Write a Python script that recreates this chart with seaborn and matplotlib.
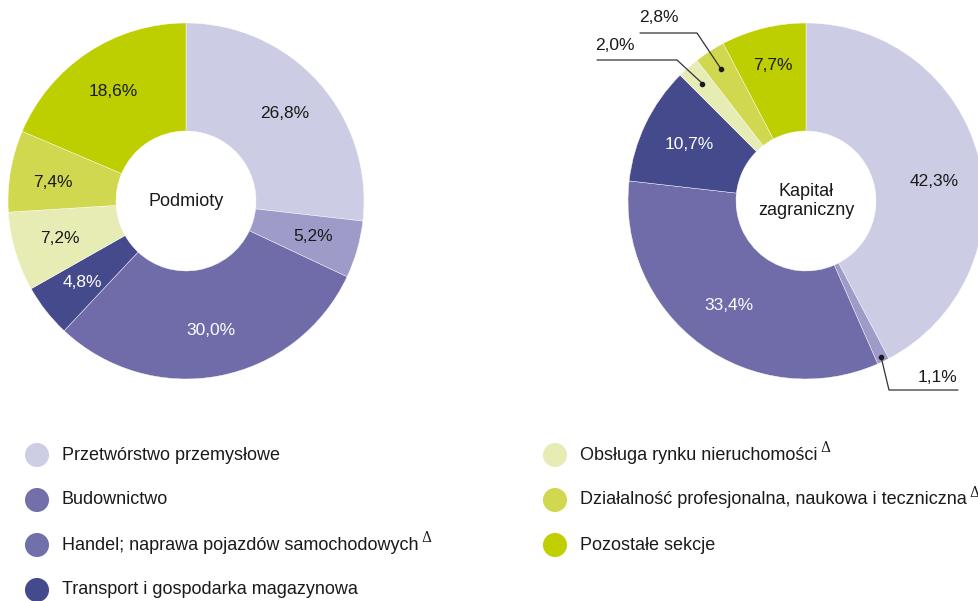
import numpy as np
import pandas as pd
import matplotlib
matplotlib.use("Agg")
import matplotlib.pyplot as plt
import seaborn as sns

# dane
sekcje = ["Przetwórstwo przemysłowe", "Budownictwo",
          "Handel; naprawa pojazdów samochodowych", "Transport i gospodarka magazynowa",
          "Obsługa rynku nieruchomości", "Działalność profesjonalna, naukowa i teczniczna",
          "Pozostałe sekcje"]
delta = [False, False, True, False, True, True, False]
podmioty = [26.8, 5.2, 30.0, 4.8, 7.2, 7.4, 18.6]
kapital = [42.3, 1.1, 33.4, 10.7, 2.0, 2.8, 7.7]
kolory = ["#cccce4", "#9e9bc8", "#6f6ca9", "#454a8d", "#e7ecb4", "#cfd84e", "#bdcf00"]
kolory_legendy = ["#cdcde5", "#7270aa", "#7270aa", "#454a8d", "#e6ecb3", "#cfd84e", "#bfcf00"]
biale = [False, False, True, True, False, False, False]

sns.set_theme(style="white")
plt.rcParams['font.family'] = ['Liberation Sans', 'DejaVu Sans']

W, H = 979, 601
fig = plt.figure(figsize=(W / 100, H / 100), dpi=100)
ax = fig.add_axes([0, 0, 1, 1])

R = 178
R_IN = 70


def fmt(v):
    return f"{v:.1f}".replace(".", ",") + "%"


def donut(vals, cx, cy, tytul, male, pctd, przes):
    wedges, _, auto = ax.pie(
        vals, colors=kolory, radius=R, center=(cx, H - cy), startangle=90,
        counterclock=False, autopct=lambda p: "", pctdistance=pctd,
        wedgeprops=dict(width=R - R_IN, edgecolor="white", linewidth=0.3))
    for i, (t, v) in enumerate(zip(auto, vals)):
        t.set_text("" if v in male else fmt(v))
        t.set_fontsize(12.5)
        t.set_color("white" if biale[i] else "#1a1a1a")
        if i in przes:
            x, y = t.get_position()
            t.set_position((x + przes[i][0], y - przes[i][1]))
    ax.text(cx, H - cy, tytul, ha="center", va="center", fontsize=13, color="#1a1a1a",
            linespacing=1.1)
    return wedges


donut(podmioty, 186, 201, "Podmioty", [], 0.74, {5: (-3, 4)})
wk = donut(kapital, 806, 201, "Kapitał\nzagraniczny", [1.1, 2.0, 2.8], 0.73,
           {0: (2, 12), 6: (-2, -9)})

# etykiety z odnośnikami (prawy wykres)
cx, cy = 806, H - 201
odn = {1: (0.97, (889, 390), (958, 390), (938, 378)),
       4: (0.88, (677, 60), (597, 60), (615, 46)),
       5: (0.88, (697, 33), (640, 33), (659, 18))}
for i, (rr, elbow, end, tpos) in odn.items():
    w = wk[i]
    ang = np.deg2rad((w.theta1 + w.theta2) / 2)
    px, py = cx + rr * R * np.cos(ang), cy + rr * R * np.sin(ang)
    ax.plot([px, elbow[0], end[0]], [py, H - elbow[1], H - end[1]], color="#333333", lw=0.9)
    ax.scatter([px], [py], s=9, color="#1a1a1a", zorder=5)
    ax.text(tpos[0], H - tpos[1], fmt(kapital[i]), ha="center", va="center",
            fontsize=12.5, color="#1a1a1a")

# legenda
leg = pd.DataFrame({"sekcja": sekcje, "kolor": kolory_legendy, "delta": delta})
leg["kol"] = [0, 0, 0, 0, 1, 1, 1]
leg["wiersz"] = [0, 1, 2, 3, 0, 1, 2]
leg["x"] = np.where(leg["kol"] == 0, 37, 555)
leg["y"] = H - (455 + 45 * leg["wiersz"])
sns.scatterplot(data=leg, x="x", y="y", hue="sekcja", palette=dict(zip(sekcje, kolory_legendy)),
                s=300, linewidth=0, legend=False, ax=ax)

ax.set_xlim(0, W)
ax.set_ylim(0, H)
ax.set_aspect("equal")
ax.axis("off")

for _, r in leg.iterrows():
    t = ax.text(r["x"] + 25, r["y"], r["sekcja"], ha="left", va="center", fontsize=13,
                color="#1a1a1a")
    if r["delta"]:
        fig.canvas.draw()
        bb = t.get_window_extent()
        x1 = ax.transData.inverted().transform((bb.x1, bb.y1))[0]
        ax.text(x1 + 3, r["y"] + 7, "\u0394", ha="left", va="center", fontsize=10,
                family=["DejaVu Serif"], color="#1a1a1a")

fig.savefig("out.png", dpi=100)
